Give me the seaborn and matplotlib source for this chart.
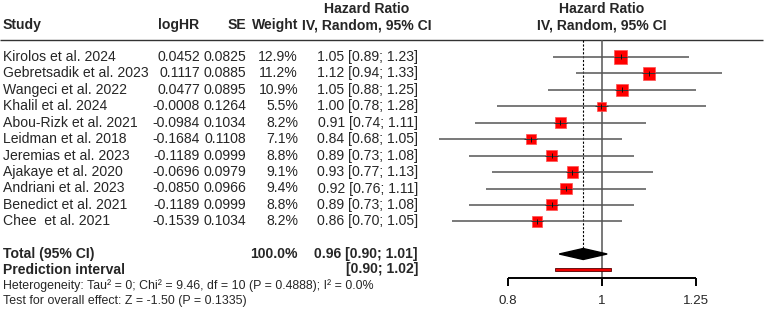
import numpy as np
import pandas as pd
import seaborn as sns
import matplotlib
import matplotlib.pyplot as plt

matplotlib.use('Agg')

# study-level data
studies = ["Kirolos et al. 2024", "Gebretsadik et al. 2023", "Wangeci et al. 2022",
           "Khalil et al. 2024", "Abou-Rizk et al. 2021", "Leidman et al. 2018",
           "Jeremias et al. 2023", "Ajakaye et al. 2020", "Andriani et al. 2023",
           "Benedict et al. 2021", "Chee  et al. 2021"]
log_hr = [0.0452, 0.1117, 0.0477, -0.0008, -0.0984, -0.1684, -0.1189, -0.0696, -0.0850, -0.1189, -0.1539]
se = [0.0825, 0.0885, 0.0895, 0.1264, 0.1034, 0.1108, 0.0999, 0.0979, 0.0966, 0.0999, 0.1034]
weight = [12.9, 11.2, 10.9, 5.5, 8.2, 7.1, 8.8, 9.1, 9.4, 8.8, 8.2]
hr_text = ["1.05 [0.89; 1.23]", "1.12 [0.94; 1.33]", "1.05 [0.88; 1.25]", "1.00 [0.78; 1.28]",
           "0.91 [0.74; 1.11]", "0.84 [0.68; 1.05]", "0.89 [0.73; 1.08]", "0.93 [0.77; 1.13]",
           "0.92 [0.76; 1.11]", "0.89 [0.73; 1.08]", "0.86 [0.70; 1.05]"]

# pooled results
pooled = 0.957
pooled_lo = 0.904
pooled_hi = 1.013
pred_lo = 0.896
pred_hi = 1.023
total_weight = "100.0%"
total_text = "0.96 [0.90; 1.01]"
pred_text = "[0.90; 1.02]"
ticks = [0.8, 1, 1.25]
tick_labels = ["0.8", "1", "1.25"]

df = pd.DataFrame({"study": studies, "loghr": log_hr, "se": se, "weight": weight})
df["hr"] = np.exp(df["loghr"])
df["lo"] = np.exp(df["loghr"] - 1.96 * df["se"])
df["hi"] = np.exp(df["loghr"] + 1.96 * df["se"])
row0, step = 56.9, 16.45
df["y"] = row0 + step * np.arange(len(df))

sns.set_style("white")
plt.rcParams['font.family'] = ['Liberation Sans', 'DejaVu Sans']

fig = plt.figure(figsize=(7.67, 3.12), dpi=100)

# text panel in pixel coordinates
axt = fig.add_axes([0, 0, 1, 1])
axt.set_xlim(0, 767)
axt.set_ylim(312, 0)
axt.axis('off')

fs = 10.1
bold = dict(fontsize=fs, fontweight='bold', va='center')
axt.text(3, 25, "Study", ha='left', **bold)
axt.text(199, 25, "logHR", ha='right', **bold)
axt.text(246, 25, "SE", ha='right', **bold)
axt.text(298, 25, "Weight", ha='right', **bold)
axt.text(367, 9, "Hazard Ratio", ha='center', **bold)
axt.text(367, 25, "IV, Random, 95% CI", ha='center', **bold)
axt.text(602, 9, "Hazard Ratio", ha='center', **bold)
axt.text(602, 25, "IV, Random, 95% CI", ha='center', **bold)
axt.hlines(40, 0, 763, color='#333333', lw=1)

for _, r in df.iterrows():
    axt.text(3, r.y, r.study, ha='left', va='center', fontsize=fs)
    axt.text(200, r.y, f"{r.loghr:.4f}", ha='right', va='center', fontsize=fs)
    axt.text(246, r.y, f"{r.se:.4f}", ha='right', va='center', fontsize=fs)
    axt.text(298, r.y, f"{r.weight:.1f}%", ha='right', va='center', fontsize=fs)
for y, t in zip(df["y"], hr_text):
    axt.text(418, y, t, ha='right', va='center', fontsize=fs)

y_tot, y_pred = 254, 269.5
axt.text(3, y_tot, "Total (95% CI)", ha='left', **bold)
axt.text(298, y_tot, total_weight, ha='right', **bold)
axt.text(418, y_tot, total_text, ha='right', **bold)
axt.text(3, y_pred, "Prediction interval", ha='left', **bold)
axt.text(418, y_pred, pred_text, ha='right', **bold)
axt.text(3, 285.5, "Heterogeneity: Tau² = 0; Chi² = 9.46, df = 10 (P = 0.4888); I² = 0.0%",
         ha='left', va='center', fontsize=8.9)
axt.text(3, 301, "Test for overall effect: Z = -1.50 (P = 0.1335)",
         ha='left', va='center', fontsize=8.9)

# forest panel: log x scale, same pixel y as the text panel
left_px, right_px = 430, 767
axf = fig.add_axes([left_px / 767, 0, (right_px - left_px) / 767, 1])
axf.set_xscale('log')
px_per = 421.0
axf.set_xlim(np.exp((left_px - 601.7) / px_per), np.exp((right_px - 601.7) / px_per))
axf.set_ylim(312, 0)

axf.vlines(1, 40, 278, color='#555555', lw=1.1)
axf.vlines(pooled, 40, 248, color='black', lw=0.8, linestyles=(0, (2, 1.5)))
axf.hlines(df["y"], df["lo"], df["hi"], color='#555555', lw=1.1)
sns.scatterplot(data=df, x="hr", y="y", size="weight", sizes=(5.5 * 7.1, 12.9 * 7.1),
                size_norm=(5.5, 12.9), marker='s', color='#ff0000', edgecolor='#ff5050',
                linewidth=0.5, legend=False, ax=axf, zorder=3)
axf.hlines(df["y"], df["hr"] * 0.985, df["hr"] * 1.015, color='#333333', lw=0.7, zorder=4)
axf.vlines(df["hr"], df["y"] - 2.5, df["y"] + 2.5, color='#111111', lw=0.7, zorder=4)

# pooled diamond and prediction interval
axf.fill([pooled_lo, pooled, pooled_hi, pooled], [y_tot, y_tot - 5.5, y_tot, y_tot + 5.5],
         color='black', zorder=3)
axf.fill([pred_lo, pred_hi, pred_hi, pred_lo], [y_pred - 1.6, y_pred - 1.6, y_pred + 1.6, y_pred + 1.6],
         facecolor='#ee0000', edgecolor='#550000', lw=0.6, zorder=3)

# x axis baseline with ticks at 0.8, 1, 1.25
axis_y = 278
axf.hlines(axis_y, ticks[0], ticks[-1], color='black', lw=1.4, zorder=6)
axf.vlines(ticks, axis_y, axis_y + 8, color='black', lw=1.4, zorder=6)
for t, lab in zip(ticks, tick_labels):
    axf.text(t, 301, lab, ha='center', va='center', fontsize=9.6)

for s in axf.spines.values():
    s.set_visible(False)
axf.set_xticks([])
axf.set_yticks([])
axf.xaxis.set_minor_locator(matplotlib.ticker.NullLocator())
axf.set_xlabel("")
axf.set_ylabel("")
axf.patch.set_alpha(0)

fig.savefig("out.png", dpi=100)
